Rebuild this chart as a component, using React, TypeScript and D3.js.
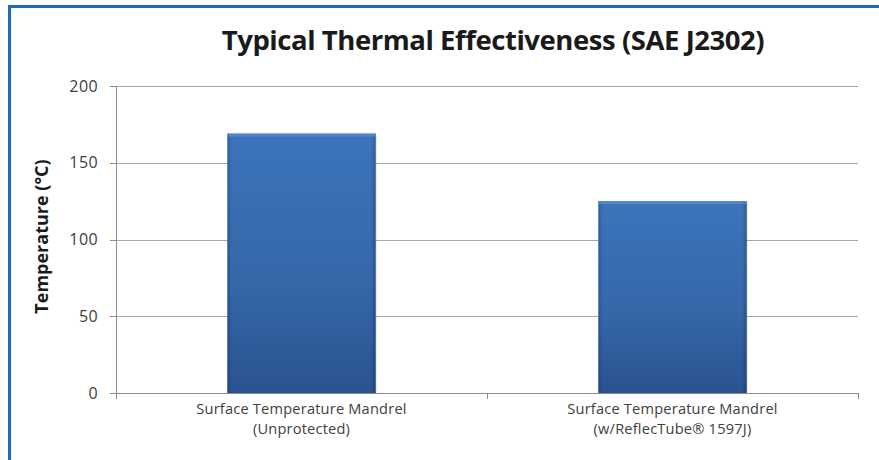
import React from "react";
import * as d3 from "d3";

const categories: string[][] = [
  ["Surface Temperature Mandrel", "(Unprotected)"],
  ["Surface Temperature Mandrel", "(w/ReflecTube® 1597J)"],
];
const values: number[] = [169, 125];
const yTicks: number[] = [0, 50, 100, 150, 200];
const title = "Typical Thermal Effectiveness (SAE J2302)";
const yTitle = "Temperature (°C)";

const W = 879;
const H = 460;
const left = 116;
const right = 858;
const top = 86;
const bottom = 393;

export default function App() {
  const x = d3
    .scaleBand<number>()
    .domain(values.map((_, i) => i))
    .range([left, right])
    .paddingInner(0.6)
    .paddingOuter(0.3);
  const y = d3.scaleLinear().domain([0, 200]).range([bottom, top]);
  const step = (right - left) / values.length;
  const font = "'Open Sans', 'DejaVu Sans', sans-serif";

  return (
    <svg width={W} height={H} style={{ position: "absolute", left: 0, top: 0 }}>
      <defs>
        <linearGradient id="barV" x1="0" y1="0" x2="0" y2="1">
          <stop offset="0" stopColor="#3c74ba" />
          <stop offset="0.6" stopColor="#3566a8" />
          <stop offset="1" stopColor="#2a5290" />
        </linearGradient>
        <linearGradient id="barH" x1="0" y1="0" x2="1" y2="0">
          <stop offset="0" stopColor="#000" stopOpacity="0.18" />
          <stop offset="0.03" stopColor="#000" stopOpacity="0" />
          <stop offset="0.97" stopColor="#000" stopOpacity="0" />
          <stop offset="1" stopColor="#000" stopOpacity="0.22" />
        </linearGradient>
      </defs>
      <rect x={0} y={0} width={W} height={H} fill="#fff" />
      <rect x={9.5} y={6.5} width={W + 20} height={H + 20} fill="none" stroke="#1f6bbd" strokeWidth={3} />
      <text
        x={493}
        y={50}
        textAnchor="middle"
        fontFamily={font}
        fontWeight={700}
        fontSize={27.5}
        fill="#1a1a1a"
        letterSpacing={-0.45}
      >
        {title}
      </text>
      {yTicks.map((t) => (
        <g key={t}>
          {t > 0 && (
            <line x1={left} x2={right} y1={Math.round(y(t)) + 0.5} y2={Math.round(y(t)) + 0.5} stroke="#a6a6a6" />
          )}
          <line x1={left - 6} x2={left} y1={Math.round(y(t)) + 0.5} y2={Math.round(y(t)) + 0.5} stroke="#8c8c8c" />
          <text
            x={left - 18}
            y={y(t)}
            dy="0.35em"
            textAnchor="end"
            fontFamily={font}
            fontSize={16}
            letterSpacing={0.4}
            fill="#404040"
          >
            {t}
          </text>
        </g>
      ))}
      {values.map((v, i) => {
        const bx = x(i)!;
        const bw = x.bandwidth();
        const by = y(v);
        const bh = y(0) - y(v);
        return (
          <g key={i}>
            <rect x={bx + 1} y={by + 1} width={bw} height={bh} fill="#000" opacity={0.12} />
            <rect x={bx} y={by} width={bw} height={bh} fill="url(#barV)" />
            <rect x={bx} y={by} width={bw} height={bh} fill="url(#barH)" />
            <rect x={bx} y={by} width={bw} height={3} fill="#5b8fd0" opacity={0.7} />
          </g>
        );
      })}
      <line x1={left + 0.5} x2={left + 0.5} y1={top} y2={bottom} stroke="#8c8c8c" />
      <line x1={left} x2={right} y1={bottom + 0.5} y2={bottom + 0.5} stroke="#8c8c8c" />
      {d3.range(values.length + 1).map((i) => (
        <line
          key={i}
          x1={Math.round(left + i * step) + 0.5}
          x2={Math.round(left + i * step) + 0.5}
          y1={bottom}
          y2={bottom + 6}
          stroke="#8c8c8c"
        />
      ))}
      {categories.map((lines, i) =>
        lines.map((l, j) => (
          <text
            key={`${i}-${j}`}
            x={x(i)! + x.bandwidth() / 2}
            y={414 + j * 20}
            textAnchor="middle"
            fontFamily={font}
            fontSize={14.6}
            letterSpacing={0.2}
            fill="#404040"
          >
            {l}
          </text>
        ))
      )}
      <text
        transform={`translate(48,${(top + bottom) / 2 - 3}) rotate(-90)`}
        textAnchor="middle"
        fontFamily={font}
        fontWeight={700}
        fontSize={18}
        fill="#1a1a1a"
      >
        {yTitle}
      </text>
    </svg>
  );
}
